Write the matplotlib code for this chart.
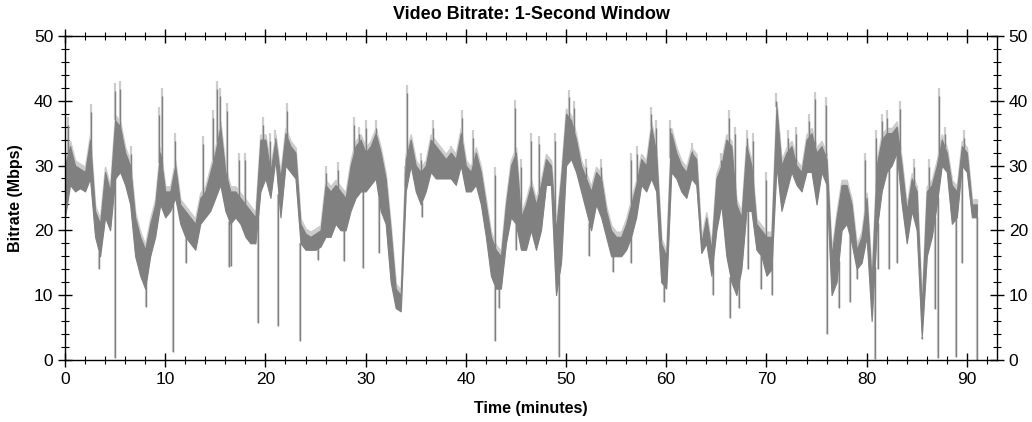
import numpy as np
import matplotlib.pyplot as plt
import matplotlib.transforms as mtransforms
from matplotlib.ticker import MultipleLocator

plt.rcParams['font.family'] = ['Liberation Sans', 'DejaVu Sans']

t_min = np.arange(0, 91.01, 0.5)
band_lo = [
    22, 27, 26, 26.5, 26, 28, 19, 16, 22, 20,
    28, 29, 27, 24, 16, 13, 11, 16, 19, 24,
    22, 23, 25, 21, 19, 18, 17, 21, 22, 23,
    25, 27, 23, 21, 22, 21, 19, 18, 18, 26,
    28, 25, 31, 22, 30, 29, 28, 18, 17, 17,
    17, 17.5, 19, 19, 21, 20, 20, 23, 25, 26,
    26, 27, 28, 23, 21, 12, 8, 7.5, 26, 30,
    26, 24, 26, 29, 28, 28, 28, 28, 27, 30,
    26, 26, 27, 24, 19, 13, 11, 11, 18, 22,
    21, 17, 17, 20, 17, 20, 27, 27, 10, 15,
    30, 31, 29, 26, 23, 20, 24, 22, 19, 16,
    16, 16, 17, 19, 22, 27, 26, 28, 26, 12,
    11, 29, 28, 26, 25, 28, 27, 16.5, 18, 13,
    20, 24, 16, 12, 10, 14, 23, 23, 17, 16,
    13, 14, 30, 23, 26, 29, 27, 26, 29, 29,
    24, 29, 27, 10, 12, 20, 21, 18, 14, 15,
    19, 6, 20, 26, 29, 30, 32, 24, 18, 23,
    20, 3.5, 16, 19, 24, 30, 29, 21, 22, 30,
    29, 22, 22,
]
band_hi = [
    30, 33, 30, 29.5, 29, 34, 23, 21, 29, 26,
    37, 36, 32, 30, 22, 19, 17, 21, 24, 32,
    26, 26, 30, 24, 23, 22, 21, 25, 26, 29,
    32, 36, 29, 26, 26, 25, 24, 23, 22, 34,
    34, 29, 34, 28, 35, 33, 32, 21, 19.5, 19,
    19.5, 20, 27, 26, 27, 26, 25, 30, 33, 34,
    32, 33, 35, 32, 28, 20, 11, 10, 31, 34,
    30, 29, 30, 34, 33, 32, 31, 32, 31, 35,
    30, 29, 32, 29, 24, 19, 17, 16, 24, 30,
    32, 22, 24, 27, 24, 27, 31, 30, 20, 28,
    38, 37, 34, 30, 28, 26, 29, 28, 23, 20,
    19, 19, 21, 24, 27, 31, 30, 36, 32, 18,
    16, 35, 32, 30, 29, 32, 31, 18, 22, 17,
    28, 30, 34, 33, 24, 22, 33, 30, 21, 20,
    19, 19, 39, 30, 32, 33, 30, 29, 34, 35,
    32, 33, 31, 16, 22, 27, 27, 24, 17, 19,
    25, 12, 30, 34, 35, 35, 36, 30, 23, 28,
    26, 8, 26, 27, 30, 34, 32, 27, 26, 33,
    32, 24, 24,
]

# short bursts above the band (minute, Mbps)
peak_t = [0.3, 2.6, 5.0, 5.5, 6.6, 9.4, 9.7, 11.0, 13.8, 14.8, 15.2, 15.5,
          16.2, 17.4, 18.0, 19.8, 20.5, 21.0, 22.2, 26.0, 27.2, 28.8, 29.3,
          30.0, 31.0, 33.9, 34.1, 35.5, 36.7, 38.5, 39.6, 40.7, 42.9, 44.9,
          45.5, 46.5, 47.3, 48.9, 50.3, 50.8, 52.0, 53.5, 56.5, 57.1, 58.5,
          59.0, 60.4, 62.6, 65.5, 66.3, 66.9, 68.1, 68.7, 70.0, 71.0, 72.2,
          72.9, 74.2, 74.8, 75.9, 79.8, 80.9, 81.5, 82.0, 83.3, 84.7, 86.2,
          87.2, 87.8, 89.7]
peak_v = [37.5, 39.5, 42.7, 43, 33, 39, 42, 35, 34.5, 38.6, 43, 42,
          39.6, 32, 32, 37.5, 35, 35.5, 39.6, 30, 30.5, 37.5, 36,
          37, 37, 30, 42.4, 32, 37, 33, 38.6, 35.5, 29.8, 40.1,
          31, 35, 34.5, 35, 41.7, 40, 31, 31, 32, 33, 39.1,
          37, 37, 33.5, 32, 38.6, 36, 35.5, 35, 29, 41.2, 35.5,
          36, 38, 41.4, 40.6, 32, 35.5, 38, 38.5, 39.9, 31, 31,
          42, 36, 35.5]

# short drops below the band (minute, Mbps)
dip_t = [3.4, 5.0, 8.1, 10.8, 12.1, 16.4, 16.6, 19.3, 21.3, 23.5, 25.2, 27.8,
         29.7, 31.3, 35.6, 42.9, 43.3, 45.0, 49.3, 52.3, 54.7, 56.5, 59.8,
         64.7, 66.4, 67.3, 68.2, 69.5, 70.6, 76.0, 77.2, 78.3, 79.0, 80.8,
         81.1, 82.2, 83.0, 85.5, 86.8, 87.1, 88.9, 89.5, 91.05]
dip_v = [14, 0.3, 8.2, 1.2, 15, 14.4, 14.5, 5.7, 5.2, 3, 15.4, 15.2,
         14.2, 16.5, 22, 3, 8, 17, 0.5, 16, 13.5, 15, 9,
         10, 6.5, 8, 14, 11, 10, 4, 8, 9, 12.5, 0.2,
         14, 14, 15, 3.2, 7.8, 0.3, 0.5, 15, 0]

dark = '#808080'
light = '#cccccc'

fig = plt.figure(figsize=(10.32, 4.22), dpi=100)
ax = fig.add_axes([0.063, 0.147, 0.903, 0.768])

lo = np.array(band_lo)
hi = np.array(band_hi)
peak_base = np.interp(peak_t, t_min, hi)
dip_base = np.interp(dip_t, t_min, lo)

# light trace sits a few pixels above the dark one
up = ax.transData + mtransforms.ScaledTranslation(0, 5 / 100, fig.dpi_scale_trans)
ax.fill_between(t_min, lo, hi, color=light, lw=1.2, edgecolor=light,
                transform=up, zorder=1)
ax.vlines(peak_t, peak_base, peak_v, color=light, lw=1.6, zorder=1)
ax.vlines(dip_t, dip_v, dip_base, color=light, lw=1.6, zorder=1)

ax.fill_between(t_min, lo, hi, color=dark, lw=0.8, edgecolor=dark, zorder=2)
ax.vlines(peak_t, peak_base, np.array(peak_v) - 1.2, color=dark, lw=1.0, zorder=2)
ax.vlines(dip_t, dip_v, dip_base, color=dark, lw=1.0, zorder=2)

ax.set_xlim(0, 93)
ax.set_ylim(0, 50)
ax.xaxis.set_major_locator(MultipleLocator(10))
ax.xaxis.set_minor_locator(MultipleLocator(2))
ax.yaxis.set_major_locator(MultipleLocator(10))
ax.yaxis.set_minor_locator(MultipleLocator(2))
ax.tick_params(which='both', top=True, right=True, labelright=True,
               direction='inout', labelsize=12.5, color='black')
ax.tick_params(which='major', length=10, width=1)
ax.tick_params(which='minor', length=6, width=0.8)
for s in ax.spines.values():
    s.set_linewidth(1)

ax.set_title('Video Bitrate: 1-Second Window', fontsize=13, fontweight='bold', pad=12)
ax.set_xlabel('Time (minutes)', fontsize=11.5, fontweight='bold', labelpad=10)
ax.set_ylabel('Bitrate (Mbps)', fontsize=11.5, fontweight='bold', labelpad=8)

fig.savefig('out.png', dpi=100)
